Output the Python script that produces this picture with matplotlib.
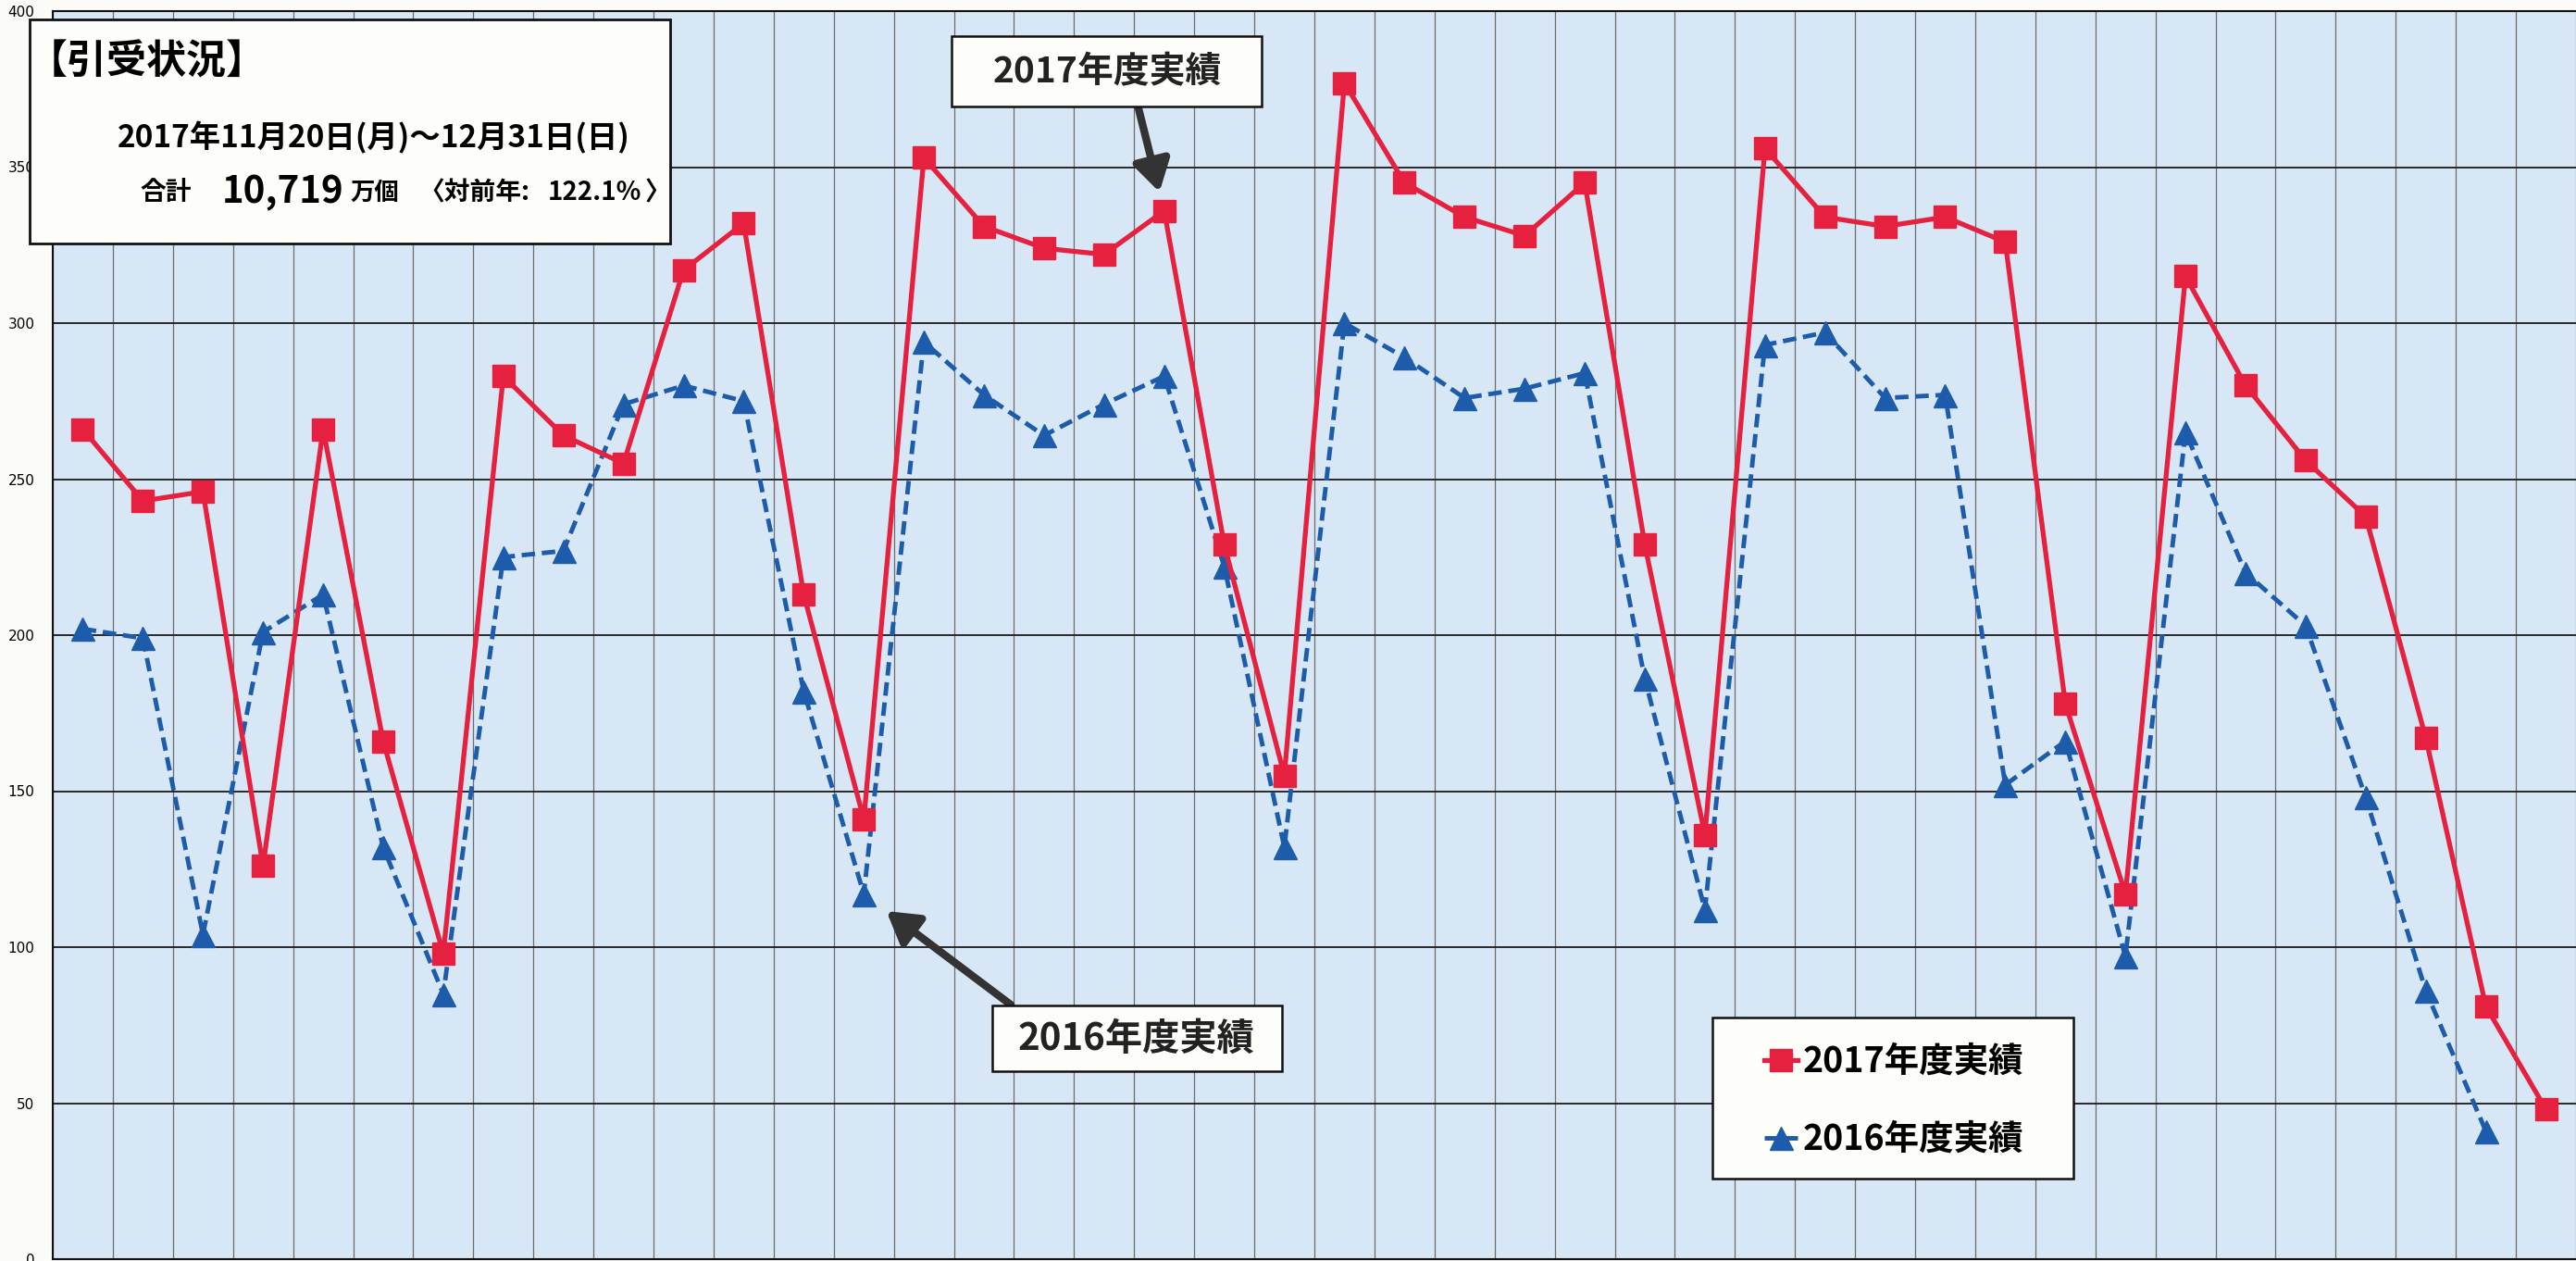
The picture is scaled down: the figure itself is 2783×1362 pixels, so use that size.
import numpy as np
import pandas as pd
import matplotlib
matplotlib.use("Agg")
import matplotlib.pyplot as plt
from matplotlib.patches import Rectangle

plt.rcParams["font.family"] = ["Noto Sans CJK JP", "DejaVu Sans"]

# daily parcel volume (10k units), 2017-11-20 .. 2017-12-31
days = pd.date_range("2017-11-20", "2017-12-31", freq="D")
vol_2017 = [266, 243, 246, 126, 266, 166, 98, 283, 264, 255, 317, 332, 213, 141,
            353, 331, 324, 322, 336, 229, 155, 377, 345, 334, 328, 345, 229, 136,
            356, 334, 331, 334, 326, 178, 117, 315, 280, 256, 238, 167, 81, 48]
vol_2016 = [202, 199, 104, 201, 213, 132, 85, 225, 227, 274, 280, 275, 182, 117,
            294, 277, 264, 274, 283, 222, 132, 300, 289, 276, 279, 284, 186, 112,
            293, 297, 276, 277, 152, 166, 97, 265, 220, 203, 148, 86, 41, np.nan]
y_ticks = [0, 50, 100, 150, 200, 250, 300, 350, 400]
label_2017 = "2017年度実績"
label_2016 = "2016年度実績"

W, H = 2783, 1362
RED = "#e5213f"
BLUE = "#1d5cab"


def fx(px):
    return px / W


def fy(py):
    return 1 - py / H


def fig_box(fig, x0, y0, x1, y1, lw=2.0):
    fig.add_artist(Rectangle((fx(x0), fy(y1)), fx(x1) - fx(x0), fy(y0) - fy(y1),
                             transform=fig.transFigure, facecolor="#fdfdf9",
                             edgecolor="#111111", lw=lw, zorder=5))


fig = plt.figure(figsize=(W / 100, H / 100), dpi=100, facecolor="#fbfbf8")
ax = fig.add_axes([fx(57), 2 / H, fx(W - 57), (1360 - 12) / H])
ax.set_facecolor("#d8e7f5")

x = np.arange(len(days))
l17, = ax.plot(x, vol_2017, color=RED, lw=3.8, marker="s", ms=17, zorder=4, label=label_2017)
l16, = ax.plot(x, vol_2016, color=BLUE, lw=3.5, ls=(0, (3, 1.5)), marker="^", ms=18,
               zorder=3, label=label_2016)

ax.set_xlim(-0.5, len(days) - 0.5)
ax.set_ylim(0, 400)
ax.set_yticks(y_ticks)
ax.set_xticks(np.arange(-0.5, len(days), 1))
ax.set_xticklabels([])
ax.tick_params(axis="x", length=0)
ax.tick_params(axis="y", length=0, labelsize=11, pad=14)
for lab in ax.get_yticklabels():
    lab.set_family("DejaVu Sans")
ax.grid(axis="y", color="#1a1a1a", lw=1.3)
ax.grid(axis="x", color="#6d6d6d", lw=0.9)
ax.set_axisbelow(True)
for s in ["top", "left", "bottom"]:
    ax.spines[s].set_color("#111111")
    ax.spines[s].set_linewidth(1.5)
ax.spines["right"].set_visible(False)

# info box
fig_box(fig, 32, 21, 724, 263)
fig.text(fx(30), fy(67), "【引受状況】", fontsize=31, weight="bold", va="center",
         ha="left", zorder=6)
fig.text(fx(404), fy(149), "2017年11月20日(月)～12月31日(日)", fontsize=24,
         weight="bold", va="center", ha="center", zorder=6)
for px, txt, size in [(151, "合計", 20), (240, "10,719", 29), (378, "万個", 19),
                      (452, "〈対前年:", 20), (592, "122.1%", 20), (696, "〉", 20)]:
    fig.text(fx(px), fy(208), txt, fontsize=size, weight="bold", va="center",
             ha="left", zorder=6)

# callouts
fig_box(fig, 1028, 39, 1363, 115, lw=1.8)
fig.text(fx(1196), fy(78), label_2017, fontsize=28, weight="bold", va="center",
         ha="center", zorder=6, color="#222222")
ax.annotate("", xy=(18, vol_2017[18]), xytext=(17.57, 369),
            arrowprops=dict(arrowstyle="-|>,head_length=0.5,head_width=0.3",
                            lw=6, color="#333333", shrinkA=0, shrinkB=15,
                            mutation_scale=40), zorder=5)

fig_box(fig, 1072, 1086, 1385, 1157, lw=1.8)
fig.text(fx(1228), fy(1122), label_2016, fontsize=29, weight="bold", va="center",
         ha="center", zorder=6, color="#222222")
ax.annotate("", xy=(13, vol_2016[13]), xytext=(15.45, 81.5),
            arrowprops=dict(arrowstyle="-|>,head_length=0.5,head_width=0.3",
                            lw=6, color="#333333", shrinkA=0, shrinkB=22,
                            mutation_scale=40), zorder=5)

# legend in its own box
fig_box(fig, 1850, 1099, 2240, 1273, lw=1.8)
leg = fig.legend(handles=[l17, l16], loc="upper left",
                 bbox_to_anchor=(fx(1906), fy(1127)), bbox_transform=fig.transFigure,
                 prop={"size": 27, "weight": "bold"}, handlelength=0.95,
                 handletextpad=0.15, labelspacing=1.2, borderpad=0, borderaxespad=0,
                 frameon=False)
leg.set_zorder(7)

fig.savefig("out.png", dpi=100, facecolor=fig.get_facecolor())
